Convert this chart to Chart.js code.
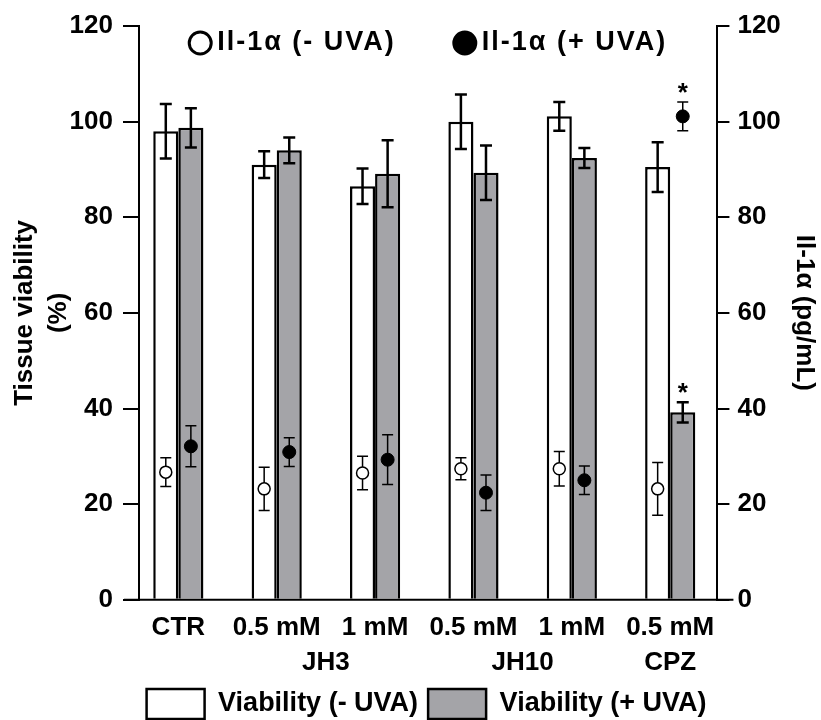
<!DOCTYPE html>
<html>
<head>
    <title>Tissue viability and Il-1α</title>
    <script src="https://cdn.jsdelivr.net/npm/chart.js"></script>
    <style>
        body {
            margin: 0;
            background: #fff;
        }
    </style>
</head>
<body>
    <canvas id="chart" width="821" height="720"></canvas>

    <script>
        // categories
        var doseLabels = ['CTR', '0.5 mM', '1 mM', '0.5 mM', '1 mM', '0.5 mM'];
        var compoundNames = ['JH3', 'JH10', 'CPZ'];
        var compoundGroups = [[1, 2], [3, 4], [5, 5]];   // first / last dose index of each compound

        // tissue viability (%), left axis
        var viabilityNoUva = [98, 91, 86.5, 100, 101.1, 90.5];
        var viabilityNoUvaErr = [5.7, 2.8, 3.7, 5.7, 3, 5.2];
        var viabilityUva = [98.7, 94, 89.1, 89.3, 92.4, 39.2];
        var viabilityUvaErr = [4.1, 2.7, 7, 5.7, 2.1, 2.1];
        var viabilityUvaStar = [false, false, false, false, false, true];

        // Il-1a (pg/mL), right axis
        var il1NoUva = [26.7, 23.2, 26.5, 27.4, 27.4, 23.2];
        var il1NoUvaErr = [3, 4.5, 3.5, 2.3, 3.6, 5.5];
        var il1Uva = [32.1, 30.9, 29.3, 22.4, 25, 101.1];
        var il1UvaErr = [4.3, 3, 5.2, 3.7, 3, 3];
        var il1UvaStar = [false, false, false, false, false, true];

        var yMin = 0, yMax = 120, yStep = 20;

        // x range around the six groups; one bar takes this share of a group step
        var X_MIN = -0.4, X_MAX = 5.48, BAR_SHARE = 0.255;

        var FONT = "'Liberation Sans', Arial, sans-serif";
        var GRAY = '#a4a4a8';

        // x tick labels: dose on the first line, compound under the middle of its doses
        var xTicks = doseLabels.map(function (d, i) { return { value: i, label: [d] }; });
        compoundNames.forEach(function (name, k) {
            var mid = (compoundGroups[k][0] + compoundGroups[k][1]) / 2;
            var hit = xTicks.find(function (t) { return t.value === mid; });
            if (hit) hit.label.push(name);
            else xTicks.push({ value: mid, label: ['', name] });
        });
        xTicks.sort(function (a, b) { return a.value - b.value; });

        function xy(arr) {
            return arr.map(function (v, i) { return { x: i, y: v }; });
        }

        function integerTicks(scale) {
            scale.ticks = doseLabels.map(function (d, i) { return { value: i }; });
        }

        function drawError(ctx, x, scale, v, e, cap, lw) {
            var top = scale.getPixelForValue(v + e);
            var bot = scale.getPixelForValue(v - e);
            ctx.save();
            ctx.strokeStyle = '#000';
            ctx.lineWidth = lw;
            ctx.beginPath();
            ctx.moveTo(x, top); ctx.lineTo(x, bot);
            ctx.moveTo(x - cap / 2, top); ctx.lineTo(x + cap / 2, top);
            ctx.moveTo(x - cap / 2, bot); ctx.lineTo(x + cap / 2, bot);
            ctx.stroke();
            ctx.restore();
            return top;
        }

        function drawStar(ctx, x, y) {
            ctx.save();
            ctx.fillStyle = '#000';
            ctx.font = 'bold 26px ' + FONT;
            ctx.textAlign = 'center';
            ctx.textBaseline = 'alphabetic';
            ctx.fillText('*', x, y);
            ctx.restore();
        }

        // error bars: under the points, over the bars
        var errorBars = {
            id: 'errorBars',
            beforeDatasetDraw: function (chart, args) {
                var ds = chart.data.datasets[args.index];
                if (ds.type !== 'line') return;
                var scale = chart.scales[ds.yAxisID];
                args.meta.data.forEach(function (pt, i) {
                    drawError(chart.ctx, pt.x, scale, ds.data[i].y, ds.errors[i], 11, 1.5);
                });
            },
            afterDatasetDraw: function (chart, args) {
                var ds = chart.data.datasets[args.index];
                var scale = chart.scales[ds.yAxisID];
                args.meta.data.forEach(function (el, i) {
                    var top;
                    if (ds.type === 'bar') {
                        top = drawError(chart.ctx, el.x, scale, ds.data[i].y, ds.errors[i], 12, 2.5);
                    } else {
                        top = scale.getPixelForValue(ds.data[i].y + ds.errors[i]);
                    }
                    if (ds.stars && ds.stars[i]) drawStar(chart.ctx, el.x, top - 1);
                });
            }
        };

        // x baseline runs a little past both y axes
        var baseline = {
            id: 'baseline',
            afterDraw: function (chart) {
                var a = chart.chartArea, ctx = chart.ctx;
                ctx.save();
                ctx.strokeStyle = '#000';
                ctx.lineWidth = 2;
                ctx.beginPath();
                ctx.moveTo(a.left - 15, a.bottom);
                ctx.lineTo(a.right + 16, a.bottom);
                ctx.stroke();
                ctx.restore();
            }
        };

        // Il-1a legend sits inside the plot, at the top
        var topLegend = {
            id: 'topLegend',
            afterDraw: function (chart) {
                var ctx = chart.ctx, a = chart.chartArea;
                var items = chart.data.datasets.filter(function (d) { return d.type === 'line'; });
                var r = 11, gapText = 6, gapItem = 58;
                ctx.save();
                ctx.font = 'bold 27px ' + FONT;
                ctx.letterSpacing = '2px';
                var widths = items.map(function (d) { return 2 * r + gapText + ctx.measureText(d.label).width; });
                var total = widths.reduce(function (s, w) { return s + w; }, 0) + gapItem * (items.length - 1);
                var x = (a.left + a.right) / 2 - total / 2;
                var y = a.top + 17;
                items.forEach(function (d, k) {
                    ctx.beginPath();
                    ctx.arc(x + r, y, r, 0, 2 * Math.PI);
                    ctx.fillStyle = d.pointBackgroundColor;
                    ctx.fill();
                    ctx.lineWidth = 3;
                    ctx.strokeStyle = d.pointBorderColor;
                    ctx.stroke();
                    ctx.fillStyle = '#000';
                    ctx.textAlign = 'left';
                    ctx.textBaseline = 'middle';
                    ctx.fillText(d.label, x + 2 * r + gapText, y);
                    x += widths[k] + gapItem;
                });
                ctx.restore();
            }
        };

        Chart.defaults.font.family = FONT;
        Chart.defaults.font.size = 26;
        Chart.defaults.font.weight = 'bold';
        Chart.defaults.color = '#000';

        var ctx = document.getElementById('chart').getContext('2d');
        new Chart(ctx, {
            data: {
                datasets: [
                    {
                        type: 'bar',
                        label: 'Viability (- UVA)',
                        data: xy(viabilityNoUva),
                        errors: viabilityNoUvaErr,
                        backgroundColor: '#ffffff',
                        borderColor: '#000',
                        borderWidth: 2.5,
                        xAxisID: 'xOpen',
                        yAxisID: 'y',
                        order: 1
                    },
                    {
                        type: 'bar',
                        label: 'Viability (+ UVA)',
                        data: xy(viabilityUva),
                        errors: viabilityUvaErr,
                        stars: viabilityUvaStar,
                        backgroundColor: GRAY,
                        borderColor: '#000',
                        borderWidth: 2.5,
                        xAxisID: 'xFilled',
                        yAxisID: 'y',
                        order: 1
                    },
                    {
                        type: 'line',
                        label: 'Il-1α (- UVA)',
                        data: xy(il1NoUva),
                        errors: il1NoUvaErr,
                        showLine: false,
                        pointRadius: 6,
                        pointBackgroundColor: '#ffffff',
                        pointBorderColor: '#000',
                        pointBorderWidth: 1.5,
                        xAxisID: 'xOpen',
                        yAxisID: 'y2',
                        order: 0
                    },
                    {
                        type: 'line',
                        label: 'Il-1α (+ UVA)',
                        data: xy(il1Uva),
                        errors: il1UvaErr,
                        stars: il1UvaStar,
                        showLine: false,
                        pointRadius: 6.5,
                        pointBackgroundColor: '#000',
                        pointBorderColor: '#000',
                        pointBorderWidth: 1,
                        xAxisID: 'xFilled',
                        yAxisID: 'y2',
                        order: 0
                    }
                ]
            },
            options: {
                responsive: false,
                animation: false,
                layout: {
                    padding: { left: 32, right: 0, top: 26, bottom: -9 }
                },
                datasets: {
                    bar: { grouped: false, barPercentage: 1, categoryPercentage: BAR_SHARE }
                },
                scales: {
                    // dose labels, compound names on a second line
                    x: {
                        type: 'linear',
                        offset: false,
                        min: X_MIN,
                        max: X_MAX,
                        afterBuildTicks: function (scale) {
                            scale.ticks = xTicks.map(function (t) { return { value: t.value }; });
                        },
                        // labels hang close above the legend
                        afterFit: function (scale) {
                            scale.height -= 11;
                        },
                        ticks: {
                            autoSkip: false,
                            maxRotation: 0,
                            minRotation: 0,
                            padding: 10,
                            font: { size: 26, weight: 'bold', lineHeight: 1.35 },
                            callback: function (value) {
                                var t = xTicks.find(function (t) { return t.value === value; });
                                return t ? t.label : '';
                            }
                        },
                        grid: { display: false, drawTicks: false, tickLength: 0 },
                        border: { display: false }
                    },
                    // white bars / open points sit left of the group centre, gray / filled right of it
                    xOpen: {
                        type: 'linear',
                        display: false,
                        offset: false,
                        min: X_MIN + BAR_SHARE / 2,
                        max: X_MAX + BAR_SHARE / 2,
                        afterBuildTicks: integerTicks
                    },
                    xFilled: {
                        type: 'linear',
                        display: false,
                        offset: false,
                        min: X_MIN - BAR_SHARE / 2,
                        max: X_MAX - BAR_SHARE / 2,
                        afterBuildTicks: integerTicks
                    },
                    y: {
                        position: 'left',
                        min: yMin,
                        max: yMax,
                        ticks: { stepSize: yStep, padding: 10 },
                        grid: { drawOnChartArea: false, drawTicks: true, tickLength: 16, color: '#000', lineWidth: 2 },
                        border: { display: true, color: '#000', width: 2 },
                        title: {
                            display: true,
                            text: ['Tissue viability', '(%)'],
                            font: { size: 26, weight: 'bold', lineHeight: 1.3 },
                            padding: { top: -24, bottom: -16 }
                        }
                    },
                    y2: {
                        position: 'right',
                        min: yMin,
                        max: yMax,
                        ticks: { stepSize: yStep, padding: 8 },
                        grid: { drawOnChartArea: false, drawTicks: true, tickLength: 12, color: '#000', lineWidth: 2 },
                        border: { display: true, color: '#000', width: 2 },
                        title: {
                            display: true,
                            text: 'Il-1α (pg/mL)',
                            padding: { top: 1, bottom: 0 }
                        }
                    }
                },
                plugins: {
                    legend: {
                        position: 'bottom',
                        labels: {
                            boxWidth: 58,
                            boxHeight: 30,
                            padding: 10,
                            font: { size: 27, weight: 'bold' },
                            filter: function (item) { return item.datasetIndex < 2; }
                        }
                    },
                    tooltip: { enabled: false }
                }
            },
            plugins: [errorBars, baseline, topLegend]
        });
    </script>
</body>
</html>
